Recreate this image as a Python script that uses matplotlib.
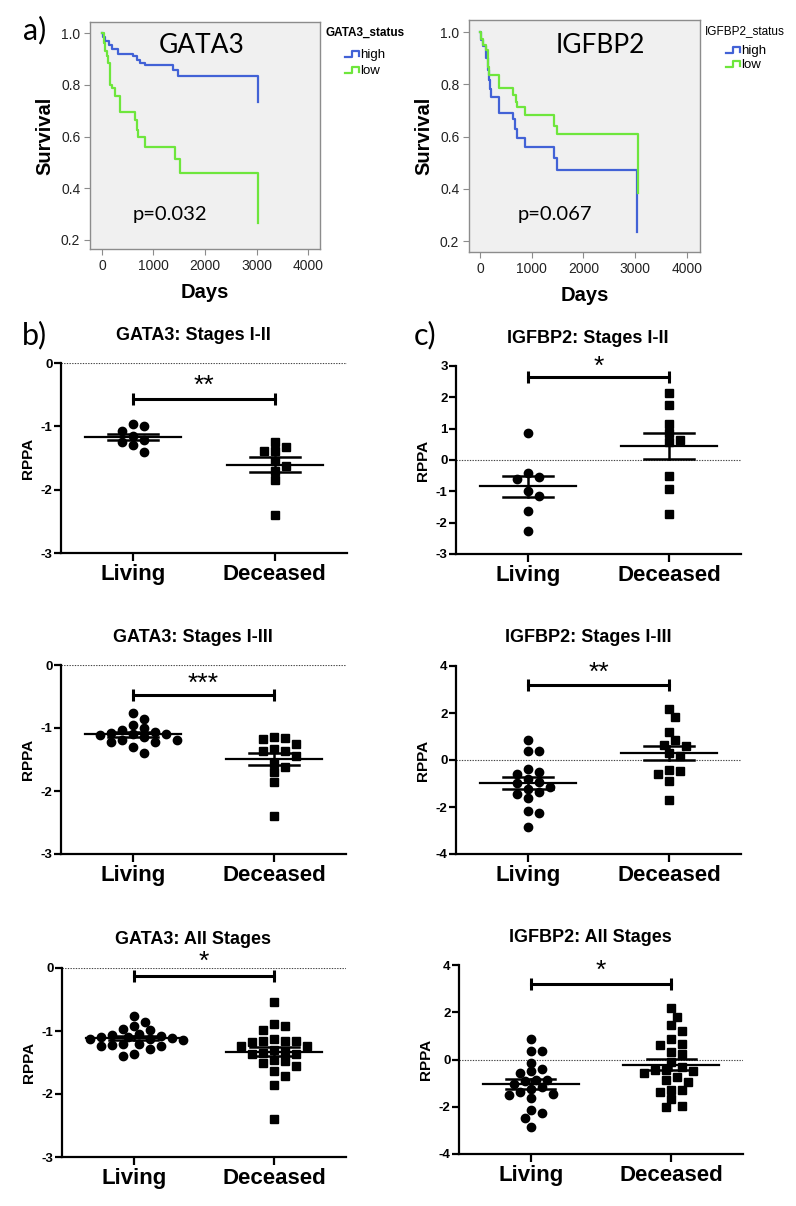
import numpy as np
import matplotlib.pyplot as plt
from matplotlib.lines import Line2D

plt.rcParams['font.family'] = ['Liberation Sans', 'DejaVu Sans']

# ---- survival data (Kaplan-Meier steps) ----
gata3_high_t = [0, 25, 65, 130, 190, 317, 608, 673, 738, 835, 1385, 1482, 3035]
gata3_high_s = [1.0, 0.985, 0.97, 0.955, 0.94, 0.92, 0.91, 0.897, 0.886, 0.876, 0.858, 0.835, 0.735]
gata3_low_t = [0, 30, 58, 91, 123, 155, 188, 252, 350, 641, 673, 706, 835, 1417, 1515, 3035]
gata3_low_s = [1.0, 0.96, 0.93, 0.91, 0.884, 0.80, 0.787, 0.755, 0.694, 0.665, 0.626, 0.60, 0.561, 0.512, 0.458, 0.265]

igfbp2_high_t = [0, 20, 64, 116, 161, 180, 200, 206, 373, 643, 675, 720, 868, 1428, 1492, 3035]
igfbp2_high_s = [1.0, 0.97, 0.945, 0.90, 0.854, 0.815, 0.783, 0.751, 0.689, 0.667, 0.628, 0.596, 0.561, 0.519, 0.470, 0.233]
igfbp2_low_t = [0, 20, 64, 116, 161, 180, 373, 643, 695, 720, 868, 1428, 1479, 3045]
igfbp2_low_s = [1.0, 0.975, 0.951, 0.932, 0.867, 0.835, 0.787, 0.76, 0.732, 0.712, 0.684, 0.641, 0.609, 0.383]

# ---- RPPA values ----
categories = ['Living', 'Deceased']

gata3_12_living = [-0.97, -1.0, -1.07, -1.16, -1.21, -1.25, -1.30, -1.40]
gata3_12_dead = [-1.25, -1.32, -1.385, -1.385, -1.55, -1.63, -1.71, -1.85, -2.40]

gata3_13_living = [-0.755, -0.86, -0.96, -1.0, -1.03, -1.07, -1.08, -1.09, -1.10, -1.11, -1.15,
                   -1.19, -1.19, -1.23, -1.23, -1.30, -1.40]
gata3_13_dead = [-1.15, -1.16, -1.18, -1.25, -1.34, -1.37, -1.37, -1.45, -1.55, -1.62, -1.70, -1.85, -2.39]

gata3_all_living = [-0.755, -0.86, -0.915, -0.97, -0.99, -1.04, -1.07, -1.08, -1.09, -1.10, -1.11,
                    -1.12, -1.13, -1.14, -1.20, -1.21, -1.23, -1.24, -1.24, -1.29, -1.36, -1.40]
gata3_all_dead = [-0.545, -0.885, -0.925, -0.98, -1.13, -1.155, -1.16, -1.165, -1.17, -1.245, -1.245,
                  -1.30, -1.33, -1.35, -1.36, -1.37, -1.465, -1.47, -1.51, -1.55, -1.64, -1.71, -1.85, -2.40]

igfbp2_12_living = [0.85, -0.40, -0.55, -0.61, -0.98, -1.16, -1.62, -2.27]
igfbp2_12_dead = [2.14, 1.77, 1.16, 0.85, 0.635, 0.58, -0.51, -0.91, -1.71]

igfbp2_13_living = [0.85, 0.38, 0.38, -0.39, -0.49, -0.59, -0.80, -0.92, -0.99, -1.13, -1.24,
                    -1.38, -1.44, -1.62, -2.15, -2.26, -2.83]
igfbp2_13_dead = [2.15, 1.81, 1.20, 0.85, 0.59, 0.635, 0.17, 0.28, -0.42, -0.59, -0.45, -0.88, -1.69]

igfbp2_all_living = [0.85, 0.36, 0.36, -0.14, -0.42, -0.50, -0.57, -0.85, -0.85, -0.92, -1.05,
                     -1.16, -1.23, -1.37, -1.44, -1.51, -1.61, -2.15, -2.26, -2.46, -2.86]
igfbp2_all_dead = [2.16, 1.81, 1.45, 1.21, 0.85, 0.65, 0.61, 0.30, 0.22, -0.10, -0.30, -0.45,
                   -0.45, -0.50, -0.59, -0.74, -0.88, -0.95, -1.30, -1.30, -1.37, -1.68, -1.98, -2.01]

BLUE = '#4262d6'
GREEN = '#6ee63c'
W, H = 796, 1206

fig = plt.figure(figsize=(W / 100, H / 100), dpi=100)


def rect(x0, y0, x1, y1):
    return [x0 / W, 1 - y1 / H, (x1 - x0) / W, (y1 - y0) / H]


def fx(x):
    return x / W


def fy(y):
    return 1 - y / H


def km_panel(r, gene, hi, lo, pval, xlim, ylim, gene_xy, p_xy, leg_title, leg_bold, leg):
    ax = fig.add_axes(r)
    ax.set_facecolor('#f0f0f0')
    ax.step(hi[0], hi[1], where='post', color=BLUE, lw=1.6)
    ax.step(lo[0], lo[1], where='post', color=GREEN, lw=1.6)
    ax.set_xlim(*xlim)
    ax.set_ylim(*ylim)
    ax.set_xticks([0, 1000, 2000, 3000, 4000])
    ax.set_yticks([0.2, 0.4, 0.6, 0.8, 1.0])
    ax.set_yticklabels(['0.2', '0.4', '0.6', '0.8', '1.0'])
    for s in ax.spines.values():
        s.set_color('#8c8c8c')
        s.set_linewidth(1.0)
    ax.tick_params(length=4, width=0.8, color='#8c8c8c', labelsize=10, pad=3, labelcolor='#222222')
    ax.set_ylabel('Survival', fontsize=14.5, fontweight='bold')
    ax.yaxis.set_label_coords(-45 / (r[2] * W), 0.5)
    ax.set_xlabel('Days', fontsize=14.5, fontweight='bold')
    ax.xaxis.set_label_coords(0.5, -44 / (r[3] * H))
    ax.xaxis.label.set_va('center')
    ax.yaxis.label.set_va('center')
    ax.text(gene_xy[0], gene_xy[1], gene, fontsize=19, family='Lato', ha='center', va='center')
    ax.text(p_xy[0], p_xy[1], pval, fontsize=14.5, family='Lato', ha='center', va='center')
    # legend
    lx, ly = leg
    fig.text(fx(lx), fy(ly), leg_title, fontsize=8.5,
             fontweight='bold' if leg_bold else 'normal', ha='left', va='center')
    for k, (lab, col) in enumerate([('high', BLUE), ('low', GREEN)]):
        y0 = ly + 22 + k * 16 if leg_bold else ly + 20 + k * 14
        ix = lx + (20 if leg_bold else 21)
        xs = [ix, ix + 7, ix + 7, ix + 14, ix + 14]
        ys = [y0 + 2, y0 + 2, y0 - 4, y0 - 4, y0 + 1]
        fig.add_artist(Line2D([fx(v) for v in xs], [fy(v) for v in ys], color=col, lw=1.6))
        fig.text(fx(ix + 15), fy(y0), lab, fontsize=9.5, ha='left', va='center')
    return ax


km_panel(rect(90, 22, 320, 249), 'GATA3', (gata3_high_t, gata3_high_s), (gata3_low_t, gata3_low_s),
         'p=0.032', (-233, 4233), (0.165, 1.043), (1940, 0.953), (1320, 0.30),
         'GATA3_status', True, (325, 33))
km_panel(rect(469, 20, 700, 252), 'IGFBP2', (igfbp2_high_t, igfbp2_high_s), (igfbp2_low_t, igfbp2_low_s),
         'p=0.067', (-212, 4251), (0.158, 1.046), (2320, 0.95), (1450, 0.30),
         'IGFBP2_status', False, (705, 31))

fig.text(fx(35), fy(30), 'a)', fontsize=22, family='Lato', ha='center', va='center')
fig.text(fx(34), fy(335), 'b)', fontsize=22, family='Lato', ha='center', va='center')
fig.text(fx(425), fy(335), 'c)', fontsize=22, family='Lato', ha='center', va='center')


def swarm_x(ax, xc, vals, wx=11.0, wy=8.5):
    # simple beeswarm in pixel space: spread points that would overlap
    P = ax.transData.transform(np.column_stack([np.full(len(vals), xc), vals]))
    ys = P[:, 1]
    step = wx / 2
    cands = [0.0]
    for k in range(1, 40):
        cands += [k * step, -k * step]
    placed = []
    off = np.zeros(len(vals))
    for i in np.argsort(-ys):
        for c in cands:
            if all(((c - ox) / wx) ** 2 + ((ys[i] - oy) / wy) ** 2 >= 0.97 for ox, oy in placed):
                off[i] = c
                placed.append((c, ys[i]))
                break
    X = ax.transData.inverted().transform(np.column_stack([P[:, 0] + off, ys]))
    return X[:, 0]


def dot_panel(r, title, living, dead, ylim, yticks, stars, bar_y, star_y):
    ax = fig.add_axes(r)
    ax.set_xlim(-0.51, 1.51)
    ax.set_ylim(*ylim)
    ax.axhline(0, color='#444444', lw=0.8, ls=(0, (1.2, 1.2)), zorder=0)
    for xc, vals, m in [(0, living, 'o'), (1, dead, 's')]:
        xs = swarm_x(ax, xc, vals)
        ax.plot(xs, vals, m, color='black', ms=6, ls='none', clip_on=False, zorder=3)
        mean = np.mean(vals)
        sem = np.std(vals, ddof=1) / np.sqrt(len(vals))
        ax.plot([xc - 0.34, xc + 0.34], [mean, mean], color='black', lw=1.6, zorder=4)
        for yv in (mean - sem, mean + sem):
            ax.plot([xc - 0.175, xc + 0.175], [yv, yv], color='black', lw=1.8, zorder=4)
        ax.plot([xc, xc], [mean - sem, mean + sem], color='black', lw=1.8, zorder=4)
    ax.plot([0, 1], [bar_y, bar_y], color='black', lw=2.2, marker='|', ms=9, mew=2.2,
            clip_on=False, zorder=4)
    ax.text(0.5, star_y, stars, fontsize=19, ha='center', va='center', clip_on=False)
    for s in ('top', 'right'):
        ax.spines[s].set_visible(False)
    for s in ('left', 'bottom'):
        ax.spines[s].set_linewidth(1.6)
    ax.set_xticks([0, 1])
    ax.set_xticklabels(categories, fontsize=16, fontweight='bold')
    ax.set_yticks(yticks)
    ax.set_yticklabels([str(v) for v in yticks], fontsize=9.5, fontweight='bold')
    ax.tick_params(axis='y', length=5, width=1.6, pad=1)
    ax.tick_params(axis='x', length=6, width=1.6, pad=2)
    ax.set_ylabel('RPPA', fontsize=11, fontweight='bold')
    ax.yaxis.set_label_coords(-33 / (r[2] * W), 0.5)
    ax.yaxis.label.set_va('center')
    ax.text(0.463, 1 + 28 / (r[3] * H), title, transform=ax.transAxes, fontsize=13,
            fontweight='bold', ha='center', va='center')
    return ax


dot_panel(rect(61, 363, 347, 553), 'GATA3: Stages I-II', gata3_12_living, gata3_12_dead,
          (-3, 0), [-3, -2, -1, 0], '**', -0.574, -0.36)
dot_panel(rect(61, 665, 346, 854), 'GATA3: Stages I-III', gata3_13_living, gata3_13_dead,
          (-3, 0), [-3, -2, -1, 0], '***', -0.475, -0.30)
dot_panel(rect(62, 968, 346, 1157), 'GATA3: All Stages', gata3_all_living, gata3_all_dead,
          (-3, 0), [-3, -2, -1, 0], '*', -0.122, 0.09)
dot_panel(rect(456, 366, 741, 554), 'IGFBP2: Stages I-II', igfbp2_12_living, igfbp2_12_dead,
          (-3, 3), [-3, -2, -1, 0, 1, 2, 3], '*', 2.66, 2.98)
dot_panel(rect(456, 666, 741, 854), 'IGFBP2: Stages I-III', igfbp2_13_living, igfbp2_13_dead,
          (-4, 4), [-4, -2, 0, 2, 4], '**', 3.18, 3.7)
dot_panel(rect(459, 965, 743, 1154), 'IGFBP2: All Stages', igfbp2_all_living, igfbp2_all_dead,
          (-4, 4), [-4, -2, 0, 2, 4], '*', 3.18, 3.75)

fig.savefig('out.png', dpi=100)
